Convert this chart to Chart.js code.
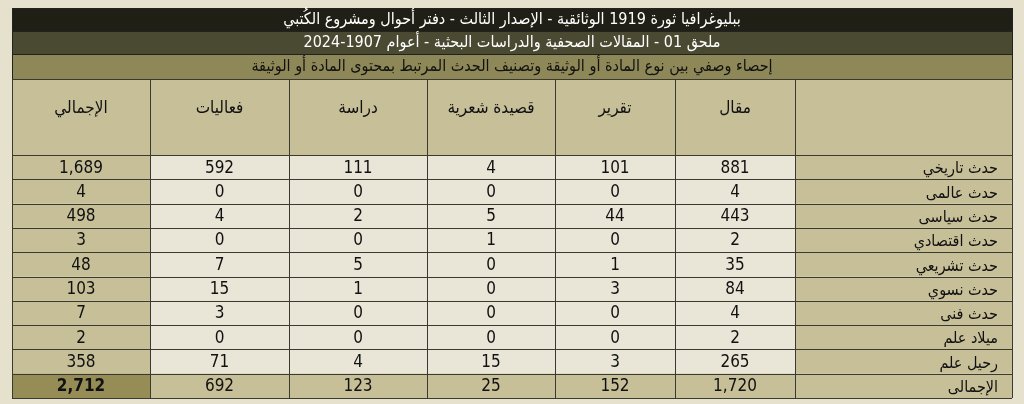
<!DOCTYPE html>
<html><head><meta charset="utf-8">
<script src="https://cdn.jsdelivr.net/npm/chart.js@4"></script>
<style>html,body{margin:0;padding:0;background:#e6e1cd;}canvas{display:block}</style>
</head><body>
<canvas id="c" width="1024" height="404"></canvas>
<script>
const titles = ["ببليوغرافيا ثورة 1919 الوثائقية - الإصدار الثالث - دفتر أحوال ومشروع الكُتبي",
  "ملحق 01 - المقالات الصحفية والدراسات البحثية - أعوام 1907-2024",
  "إحصاء وصفي بين نوع المادة أو الوثيقة وتصنيف الحدث المرتبط بمحتوى المادة أو الوثيقة"];
const columns = ["مقال","تقرير","قصيدة شعرية","دراسة","فعاليات","الإجمالي"];
const categories = ["حدث تاريخي","حدث عالمى","حدث سياسى","حدث اقتصادي","حدث تشريعي","حدث نسوي","حدث فنى","ميلاد علم","رحيل علم","الإجمالى"];
const maqal   = [881,4,443,2,35,84,4,2,265,1720];
const taqrir  = [101,0,44,0,1,3,0,0,3,152];
const qasida  = [4,0,5,1,0,0,0,0,15,25];
const dirasa  = [111,0,2,0,5,1,0,0,4,123];
const faaliyat= [592,0,4,0,7,15,3,0,71,692];
const total   = [1689,4,498,3,48,103,7,2,358,2712];

// layout (pixels)
const colEdges = [1012,795,675,555,427,289,150,12];
const L = {titleTops:[8,31,54,79], headerBottom:155, bottom:398};

const series=[maqal,taqrir,qasida,dirasa,faaliyat,total];
const fmt=v=>v.toLocaleString('en-US');
const AR='"DejaVu Sans Condensed","DejaVu Sans",sans-serif';
const NUM='"Liberation Sans Narrow","DejaVu Sans Condensed",sans-serif';

const tablePlugin={id:'table',afterDraw(chart){
  const ctx=chart.ctx, X=v=>chart.scales.x.getPixelForValue(v), Y=v=>chart.scales.y.getPixelForValue(v);
  const x0=X(12), x1=X(1012);
  const tcol=['#1f1f15','#4a4932','#8e8858'], tfg=['#fff','#fff','#111'];
  ctx.save();
  ctx.textBaseline='middle';
  for(let i=0;i<3;i++){
    const a=Y(L.titleTops[i]), b=Y(L.titleTops[i+1]);
    ctx.fillStyle=tcol[i]; ctx.fillRect(x0,a,x1-x0,b-a);
    ctx.strokeStyle='#222'; ctx.lineWidth=1; ctx.strokeRect(x0+.5,a+.5,x1-x0,b-a);
    ctx.fillStyle=tfg[i]; ctx.font='16px '+AR; ctx.textAlign='center'; ctx.direction='rtl';
    ctx.fillText(titles[i],(x0+x1)/2,(a+b)/2);
  }
  const hT=Y(L.titleTops[3]), hB=Y(L.headerBottom), bot=Y(L.bottom);
  const rh=(bot-hB)/categories.length;
  ctx.fillStyle='#c7bf98'; ctx.fillRect(x0,hT,x1-x0,hB-hT);
  ctx.font='17px '+AR; ctx.fillStyle='#111';
  for(let c=0;c<columns.length;c++){
    const a=X(colEdges[c+2]), b=X(colEdges[c+1]);
    ctx.fillText(columns[c],(a+b)/2,(hT+hB)/2-8);
  }
  for(let r=0;r<categories.length;r++){
    const a=hB+r*rh, isTot=r===categories.length-1;
    for(let c=0;c<7;c++){
      const xa=X(colEdges[c+1]), xb=X(colEdges[c]);
      let bg = (c===0||c===6||isTot)?'#c7bf98':'#e9e5d7';
      if(isTot&&c===6) bg='#958c56';
      ctx.fillStyle=bg; ctx.fillRect(xa,a,xb-xa,rh);
      ctx.fillStyle='#111';
      if(c===0){ctx.font='16px '+AR; ctx.direction='rtl'; ctx.textAlign='right'; ctx.fillText(categories[r],xb-14,a+rh/2+2);}
      else{ctx.font=((isTot&&c===6)?'bold ':'')+'17px '+NUM; ctx.direction='ltr'; ctx.textAlign='center'; ctx.fillText(fmt(series[c-1][r]),(xa+xb)/2,a+rh/2+1);}
    }
  }
  ctx.strokeStyle='#3a3a30'; ctx.lineWidth=1;
  ctx.beginPath();
  for(const e of colEdges){const x=Math.round(X(e))+.5; ctx.moveTo(x,hT); ctx.lineTo(x,bot);}
  for(let r=0;r<=categories.length;r++){const y=Math.round(hB+r*rh)+.5; ctx.moveTo(x0,y); ctx.lineTo(x1,y);}
  ctx.moveTo(x0,Math.round(hT)+.5); ctx.lineTo(x1,Math.round(hT)+.5);
  ctx.stroke();
  ctx.restore();
}};

new Chart(document.getElementById('c'),{
  type:'scatter',
  data:{datasets:[{data:[]}]},
  options:{responsive:false,animation:false,events:[],layout:{padding:0},
    plugins:{legend:{display:false},tooltip:{enabled:false}},
    scales:{x:{type:'linear',min:0,max:1024,display:false},
            y:{type:'linear',min:0,max:404,reverse:true,display:false}}},
  plugins:[tablePlugin]
});
</script>
</body></html>
